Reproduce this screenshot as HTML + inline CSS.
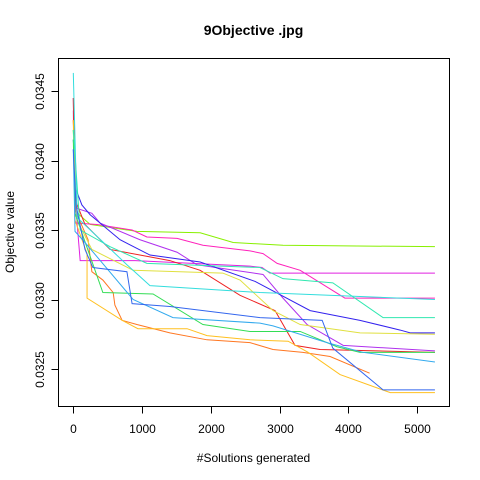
<!DOCTYPE html>
<html><head><meta charset="utf-8"><style>
html,body{margin:0;padding:0;background:#fff;}
svg{display:block;font-family:"Liberation Sans",sans-serif;}
</style></head><body>
<svg id="chart" width="480" height="480" viewBox="0 0 480 480">
<text x="253.5" y="35" text-anchor="middle" font-size="14" font-weight="bold">9Objective .jpg</text>
<rect x="58.5" y="58.5" width="391" height="348" fill="none" stroke="#000" stroke-width="1"/>
<g id="series"></g>
<g id="axes"></g>
<text x="253.5" y="462" text-anchor="middle" font-size="12">#Solutions generated</text>
<text transform="translate(14,232) rotate(-90)" text-anchor="middle" font-size="12">Objective value</text>
</svg>
<script>
const xTicks = [0,1000,2000,3000,4000,5000];
const yTicks = [0.0325,0.0330,0.0335,0.0340,0.0345];
const yTickLabels = ["0.0325","0.0330","0.0335","0.0340","0.0345"];
const seriesColors = ["#88f000","#ff22bb","#e020e0","#b030ee","#3322ee","#ee2222","#ff7722","#ffc020","#e0e040","#33dd55","#30e8b0","#33dddd","#33aaee","#3366ee"];
const seriesX = [
 [0,40,245,925,1845,2325,3050,5260],
 [0,25,345,855,1070,1510,1885,2570,2760,2965,3300,3950,5260],
 [0,40,100,900,2570,2745,2860,5260],
 [0,25,270,390,970,1510,1800,2760,3050,3400,3925,5260],
 [0,40,125,245,680,1115,1845,2645,3445,4170,4755,4900,5260],
 [0,25,170,535,1405,1845,2425,2935,3225,3590,5260],
 [0,55,215,270,430,580,605,710,925,1405,1945,2570,2905,3340,3735,4310],
 [0,25,200,200,710,940,1655,1945,2570,3125,3415,3880,4610,5260],
 [0,55,270,870,2175,2425,2905,3300,4170,5260],
 [0,25,430,1160,1885,2570,3300,3835,4170,5260],
 [0,100,535,1070,2715,3050,3775,4505,5260],
 [0,55,780,1115,2715,5260],
 [0,25,170,870,1450,2715,2905,3690,4210,5260],
 [0,40,170,285,780,855,1405,2715,3620,3775,4505,5260]
];
const seriesY = [
 [0.03422,0.03363,0.03354,0.03349,0.03348,0.03341,0.03339,0.03338],
 [0.03445,0.03355,0.03354,0.0335,0.03345,0.03344,0.03339,0.03335,0.03333,0.03326,0.03321,0.03301,0.03301],
 [0.03429,0.03364,0.03328,0.03328,0.03324,0.03323,0.03319,0.03319],
 [0.03436,0.03366,0.03362,0.03355,0.03343,0.03334,0.03325,0.03318,0.03301,0.03282,0.03267,0.03263],
 [0.03415,0.03379,0.03368,0.03361,0.03343,0.03332,0.03327,0.03313,0.03292,0.03285,0.03278,0.03276,0.03276],
 [0.03445,0.03372,0.03354,0.03336,0.03328,0.03321,0.03303,0.03292,0.03267,0.03264,0.03262],
 [0.03429,0.03361,0.03343,0.0332,0.03314,0.03305,0.03296,0.03285,0.03282,0.03276,0.03271,0.03269,0.03264,0.03262,0.03259,0.03247],
 [0.03429,0.03357,0.03333,0.03301,0.03285,0.03279,0.03279,0.03274,0.03271,0.0327,0.03262,0.03246,0.03233,0.03233],
 [0.03422,0.03357,0.03336,0.03321,0.03319,0.03314,0.03292,0.03282,0.03276,0.03275],
 [0.03415,0.03362,0.03305,0.03304,0.03282,0.03277,0.03277,0.03266,0.03262,0.03262],
 [0.03422,0.0335,0.03338,0.03326,0.03323,0.03315,0.03312,0.03287,0.03287],
 [0.03463,0.03359,0.03325,0.0331,0.03305,0.033],
 [0.03408,0.03349,0.03341,0.033,0.03287,0.03283,0.03281,0.03269,0.03262,0.03255],
 [0.03408,0.03368,0.03336,0.03323,0.0332,0.03297,0.03295,0.03287,0.03285,0.03265,0.03235,0.03235]
];
const NS = "http://www.w3.org/2000/svg";
function xScale(v){ return 73.3 + v*0.06875; }
function yScale(v){ return 91 + (0.0345 - v)*139000; }
const sg = document.getElementById('series');
for (let i=0;i<seriesX.length;i++){
  const pts = seriesX[i].map((x,j)=>xScale(x).toFixed(2)+","+yScale(seriesY[i][j]).toFixed(2)).join(" ");
  const pl = document.createElementNS(NS,'polyline');
  pl.setAttribute('points',pts);
  pl.setAttribute('fill','none');
  pl.setAttribute('stroke',seriesColors[i]);
  pl.setAttribute('stroke-width','1');
  
  
  sg.appendChild(pl);
}
const ag = document.getElementById('axes');
// x axis
const xl = document.createElementNS(NS,'line');
xl.setAttribute('x1',xScale(xTicks[0])); xl.setAttribute('x2',xScale(xTicks[xTicks.length-1]));
xl.setAttribute('y1',406.5); xl.setAttribute('y2',406.5); xl.setAttribute('stroke','#000');


ag.appendChild(xl);
xTicks.forEach(t=>{
  const x = Math.round(xScale(t))+0.5;
  const tk = document.createElementNS(NS,'line');
  tk.setAttribute('x1',x); tk.setAttribute('x2',x); tk.setAttribute('y1',406.5); tk.setAttribute('y2',413.5); tk.setAttribute('stroke','#000');
  
  
  ag.appendChild(tk);
  const lb = document.createElementNS(NS,'text');
  lb.setAttribute('x',x); lb.setAttribute('y',433); lb.setAttribute('text-anchor','middle'); lb.setAttribute('font-size','12');
  lb.textContent = String(t);
  
  
  ag.appendChild(lb);
});
// y axis
const yl = document.createElementNS(NS,'line');
yl.setAttribute('x1',58.5); yl.setAttribute('x2',58.5);
yl.setAttribute('y1',yScale(yTicks[0])); yl.setAttribute('y2',yScale(yTicks[yTicks.length-1])); yl.setAttribute('stroke','#000');


ag.appendChild(yl);
yTicks.forEach((t,i)=>{
  const y = Math.round(yScale(t))+0.5;
  const tk = document.createElementNS(NS,'line');
  tk.setAttribute('x1',51.5); tk.setAttribute('x2',58.5); tk.setAttribute('y1',y); tk.setAttribute('y2',y); tk.setAttribute('stroke','#000');
  
  
  ag.appendChild(tk);
  const lb = document.createElementNS(NS,'text');
  lb.setAttribute('transform','translate(44,'+y+') rotate(-90)'); lb.setAttribute('text-anchor','middle'); lb.setAttribute('font-size','12');
  lb.textContent = yTickLabels[i];
  
  
  ag.appendChild(lb);
});
</script>
</body></html>
